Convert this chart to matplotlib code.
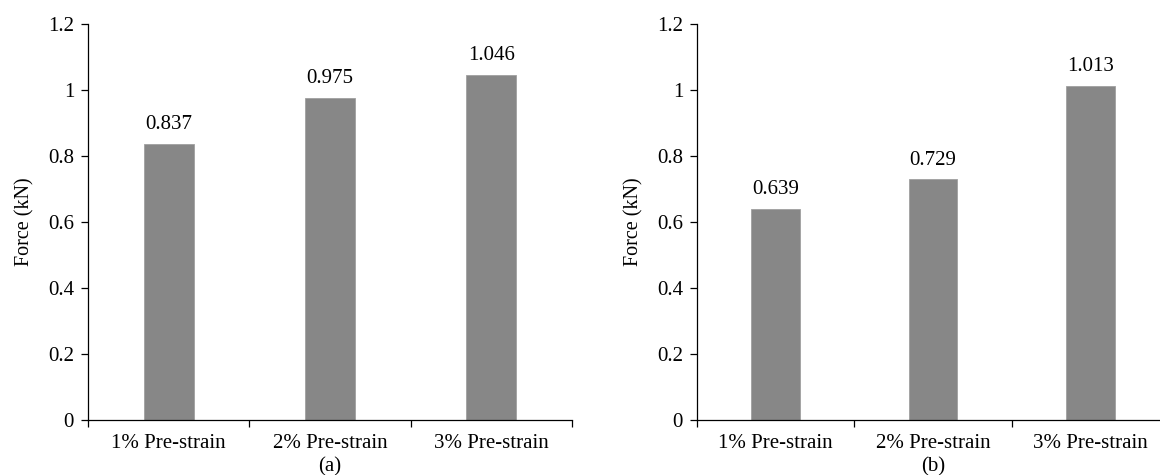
import numpy as np
import matplotlib.pyplot as plt
import matplotlib.transforms as mtransforms

# Data
categories = ['1% Pre-strain', '2% Pre-strain', '3% Pre-strain']
force_a = [0.837, 0.975, 1.046]
force_b = [0.639, 0.729, 1.013]
panel_labels = ['(a)', '(b)']
yticks = [0, 0.2, 0.4, 0.6, 0.8, 1.0, 1.2]
ytick_labels = ['0', '0.2', '0.4', '0.6', '0.8', '1', '1.2']

plt.rcParams['font.family'] = ['Liberation Serif', 'DejaVu Serif']
fs = 15

fig = plt.figure(figsize=(11.6, 4.75), dpi=100)
ax_a = fig.add_axes([88 / 1160, 55 / 475, 484 / 1160, 396 / 475])
ax_b = fig.add_axes([697 / 1160, 55 / 475, 472 / 1160, 396 / 475])

x = np.arange(len(categories))
bar_color = '#878787'

for ax, vals, lab in zip([ax_a, ax_b], [force_a, force_b], panel_labels):
    ax.bar(x, vals, width=0.31, color=bar_color, edgecolor='#a0a0a0', linewidth=0.6)
    for xi, v in zip(x, vals):
        ax.text(xi, v + 0.045, f'{v:.3f}', ha='center', va='baseline', fontsize=fs)
    ax.set_xlim(-0.5, 2.5)
    ax.set_ylim(0, 1.2)
    ax.set_yticks(yticks)
    ax.set_yticklabels(ytick_labels, fontsize=fs)
    # ticks sit on the category boundaries, labels in the middle
    ax.set_xticks([-0.5, 0.5, 1.5, 2.5])
    ax.set_xticklabels([])
    ax.set_xticks(x, minor=True)
    ax.set_xticklabels(categories, minor=True, fontsize=fs)
    ax.tick_params(axis='x', which='minor', length=0, pad=10)
    ax.tick_params(axis='x', which='major', direction='out', length=5, width=0.9)
    ax.tick_params(axis='y', direction='out', length=5, width=0.9, pad=5)
    ax.spines['top'].set_visible(False)
    ax.spines['right'].set_visible(False)
    ax.spines['left'].set_linewidth(0.9)
    ax.spines['bottom'].set_linewidth(0.9)
    ax.set_ylabel('Force (kN)', fontsize=14.5)
    ax.yaxis.label.set_va('center')
    ax.yaxis.set_label_coords(-63 / (ax.get_position().width * 1160), 0.5)
    # panel caption under the middle category
    trans = mtransforms.blended_transform_factory(ax.transData, fig.transFigure)
    ax.text(1, 8 / 475, lab, transform=trans, ha='center', va='center', fontsize=fs)

fig.savefig('out.png', dpi=100)
